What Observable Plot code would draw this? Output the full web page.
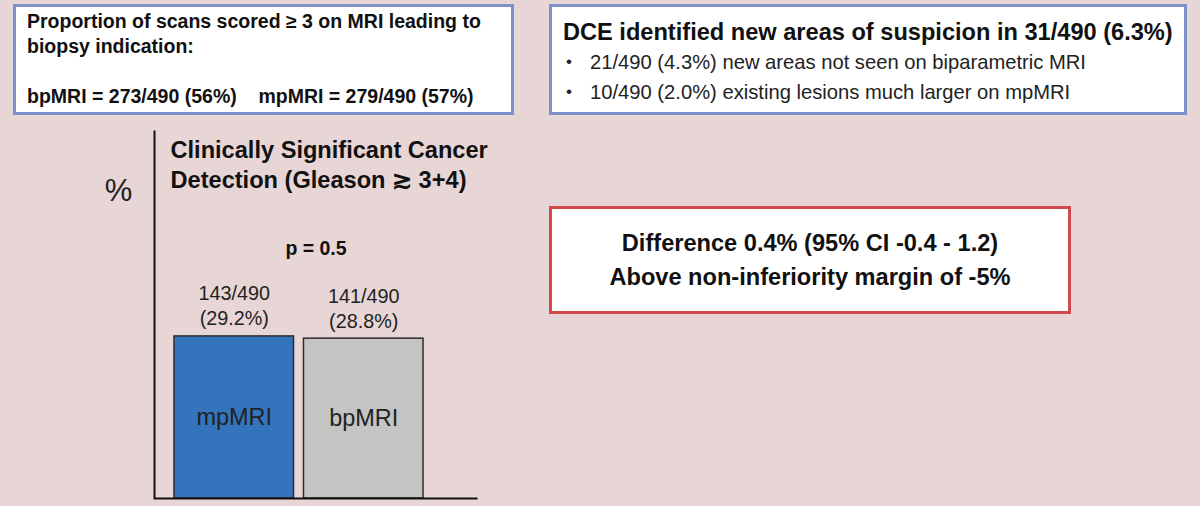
<!DOCTYPE html>
<html>
<head>
<meta charset="utf-8">
<script src="https://cdn.jsdelivr.net/npm/d3@7"></script>
<script src="https://cdn.jsdelivr.net/npm/@observablehq/plot@0.6"></script>
<style>
  html, body { margin: 0; padding: 0; background: #e8d6d6; }
  body { width: 1200px; height: 506px; position: relative; overflow: hidden;
         font-family: "Liberation Sans", Arial, sans-serif; color: #111; }
  #chart { position: absolute; left: 0; top: 0; }
  .box { position: absolute; box-sizing: border-box; background: #fff; white-space: nowrap; }
  #box1 { left: 13px; top: 4px; width: 501px; height: 111px; border: 3px solid #7d90c9;
          padding: 2px 0 0 11px; font-weight: bold; font-size: 19.5px; line-height: 25px; }
  #box2 { left: 549px; top: 4px; width: 638px; height: 111px; border: 3px solid #7d90c9;
          padding: 0 0 0 11px; }
  #box2 .t { font-weight: bold; font-size: 23.6px; line-height: 30px; margin-top: 10px; }
  #box2 .b { font-size: 20.2px; line-height: 30px; color: #222; position: relative; padding-left: 27px; }
  #box2 .b::before { content: "•"; position: absolute; left: 3px; font-size: 17px; }
  #box3 { left: 549px; top: 206px; width: 522px; height: 108px; border: 3px solid #d34a4a;
          text-align: center; font-weight: bold; font-size: 23.6px; line-height: 34px; padding-top: 17px; }
</style>
</head>
<body>
<div id="chart"></div>
<div class="box" id="box1"></div>
<div class="box" id="box2"></div>
<div class="box" id="box3"></div>
<script>
// ---- data ----
const categories = ["mpMRI", "bpMRI"];
const percents = [29.2, 28.8];
const counts = [143, 141];
const totals = [490, 490];
const barColors = ["#3474bd", "#c4c5c2"];
const chartTitle = "Clinically Significant Cancer\nDetection (Gleason \u2273 3+4)";
const yLabel = "%";
const pValueText = "p = 0.5";

const box1Lines = [
  "Proportion of scans scored \u2265 3 on MRI leading to",
  "biopsy indication:",
  "",
  "bpMRI = 273/490 (56%)\u00a0\u00a0\u00a0\u00a0mpMRI = 279/490 (57%)"
];
const box2Title = "DCE identified new areas of suspicion in 31/490 (6.3%)";
const box2Bullets = [
  "21/490 (4.3%) new areas not seen on biparametric MRI",
  "10/490 (2.0%) existing lesions much larger on mpMRI"
];
const box3Lines = [
  "Difference 0.4% (95% CI -0.4 - 1.2)",
  "Above non-inferiority margin of -5%"
];

// ---- build table ----
const data = categories.map((c, i) => ({
  cat: c, pct: percents[i], n: counts[i], total: totals[i], color: barColors[i]
}));

const W = 1200, H = 506;
const mL = 154, mR = 723, mT = 130, mB = 8;
const fw = W - mL - mR, fh = H - mT - mB;

const chart = Plot.plot({
  width: W, height: H,
  marginLeft: mL, marginRight: mR, marginTop: mT, marginBottom: mB,
  style: { background: "transparent", fontFamily: "'Liberation Sans', Arial, sans-serif" },
  x: { type: "band", domain: categories, range: [174, 423], paddingInner: 0.077, paddingOuter: 0, axis: null, round: false },
  y: { domain: [0, 66.3], axis: null },
  color: { type: "identity" },
  marks: [
    Plot.barY(data, { x: "cat", y: "pct", fill: "color", stroke: "#2b2b2b", strokeWidth: 1.5 }),
    Plot.text(data, {
      x: "cat", y: "pct",
      text: d => `${d.n}/${d.total}\n(${d.pct.toFixed(1)}%)`,
      lineAnchor: "bottom", dy: -11, fontSize: 19.8, lineHeight: 1.27, fill: "#222"
    }),
    Plot.text(data, {
      x: "cat", y: d => d.pct / 2, text: "cat",
      fontSize: 23.5, fill: "#222", lineAnchor: "middle"
    }),
    Plot.frame({ stroke: "#111", strokeWidth: 2, strokeDasharray: `0 ${fw + fh} ${fw + fh}` }),
    Plot.text([chartTitle], {
      frameAnchor: "top-left", dx: 16, dy: 33, textAnchor: "start", lineAnchor: "middle",
      fontSize: 23.6, fontWeight: "bold", lineHeight: 1.27, fill: "#111"
    }),
    Plot.text([pValueText], {
      frameAnchor: "top", dy: 118, lineAnchor: "middle", fontSize: 19.5, fontWeight: "bold", fill: "#111"
    }),
    Plot.text([yLabel], {
      frameAnchor: "top-left", dx: -36, dy: 61, textAnchor: "middle", lineAnchor: "middle",
      fontSize: 31, fill: "#222"
    })
  ]
});
document.getElementById("chart").append(chart);

// ---- text boxes ----
const b1 = document.getElementById("box1");
box1Lines.forEach(l => { const d = document.createElement("div"); d.textContent = l || "\u00a0"; b1.append(d); });
const b2 = document.getElementById("box2");
const t2 = document.createElement("div"); t2.className = "t"; t2.textContent = box2Title; b2.append(t2);
box2Bullets.forEach(l => { const d = document.createElement("div"); d.className = "b"; d.textContent = l; b2.append(d); });
const b3 = document.getElementById("box3");
box3Lines.forEach(l => { const d = document.createElement("div"); d.textContent = l; b3.append(d); });
</script>
</body>
</html>
